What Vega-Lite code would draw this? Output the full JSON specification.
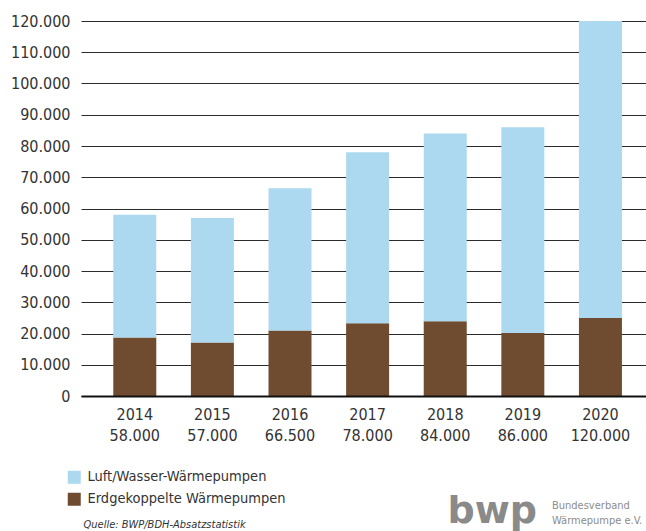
{
  "$schema": "https://vega.github.io/schema/vega-lite/v6.json",
  "width": 565,
  "height": 375,
  "autosize": {"type": "none"},
  "padding": {"left": 81, "top": 21, "right": 0, "bottom": 135},
  "background": "white",
  "config": {
    "locale": {"number": {"decimal": ",", "thousands": ".", "grouping": [3], "currency": ["", " €"]}},
    "view": {"stroke": null},
    "font": "DejaVu Sans Condensed"
  },
  "title": {
    "text": ["Bundesverband", "Wärmepumpe e.V."],
    "orient": "top",
    "anchor": "start",
    "frame": "group",
    "align": "left",
    "baseline": "top",
    "offset": 0,
    "dx": 471,
    "dy": 513,
    "fontSize": 11,
    "fontWeight": "normal",
    "color": "#8c8c8c",
    "lineHeight": 15,
    "font": "DejaVu Sans Condensed"
  },
  "data": {
    "values": [
      {"achse": "2014|58.000", "typ": "Erdgekoppelte Wärmepumpen", "anzahl": 18700},
      {"achse": "2014|58.000", "typ": "Luft/Wasser-Wärmepumpen", "anzahl": 39300},
      {"achse": "2015|57.000", "typ": "Erdgekoppelte Wärmepumpen", "anzahl": 17100},
      {"achse": "2015|57.000", "typ": "Luft/Wasser-Wärmepumpen", "anzahl": 39900},
      {"achse": "2016|66.500", "typ": "Erdgekoppelte Wärmepumpen", "anzahl": 21000},
      {"achse": "2016|66.500", "typ": "Luft/Wasser-Wärmepumpen", "anzahl": 45500},
      {"achse": "2017|78.000", "typ": "Erdgekoppelte Wärmepumpen", "anzahl": 23300},
      {"achse": "2017|78.000", "typ": "Luft/Wasser-Wärmepumpen", "anzahl": 54700},
      {"achse": "2018|84.000", "typ": "Erdgekoppelte Wärmepumpen", "anzahl": 23900},
      {"achse": "2018|84.000", "typ": "Luft/Wasser-Wärmepumpen", "anzahl": 60100},
      {"achse": "2019|86.000", "typ": "Erdgekoppelte Wärmepumpen", "anzahl": 20200},
      {"achse": "2019|86.000", "typ": "Luft/Wasser-Wärmepumpen", "anzahl": 65800},
      {"achse": "2020|120.000", "typ": "Erdgekoppelte Wärmepumpen", "anzahl": 25000},
      {"achse": "2020|120.000", "typ": "Luft/Wasser-Wärmepumpen", "anzahl": 95000}
    ]
  },
  "mark": {"type": "bar"},
  "encoding": {
    "x": {
      "field": "achse",
      "type": "nominal",
      "sort": null,
      "scale": {"paddingInner": 0.446, "paddingOuter": 0.363, "align": 0.573},
      "axis": {
        "title": "Quelle: BWP/BDH-Absatzstatistik",
        "labelAngle": 0,
        "labelExpr": "split(datum.label, '|')",
        "ticks": false,
        "domainColor": "#111111",
        "domainWidth": 2,
        "labelPadding": 10,
        "labelFontSize": 16,
        "labelLineHeight": 21,
        "labelColor": "#333333",
        "labelFont": "DejaVu Sans Condensed",
        "titleAnchor": "start",
        "titleAlign": "left",
        "titleX": 2,
        "titleY": 131,
        "titleBaseline": "alphabetic",
        "titleFontSize": 11,
        "titleFontStyle": "italic",
        "titleFontWeight": "normal",
        "titleColor": "#333333",
        "titleFont": "DejaVu Sans Condensed",
        "zindex": 1
      }
    },
    "y": {
      "field": "anzahl",
      "type": "quantitative",
      "stack": "zero",
      "scale": {"domain": [0, 120000], "nice": false},
      "axis": {
        "values": [0, 10000, 20000, 30000, 40000, 50000, 60000, 70000, 80000, 90000, 100000, 110000, 120000],
        "format": ",d",
        "domain": false,
        "ticks": false,
        "labelPadding": 11,
        "labelFontSize": 16,
        "labelColor": "#333333",
        "labelFont": "DejaVu Sans Condensed",
        "gridColor": "#2b2b2b",
        "gridWidth": 1.2,
        "title": "bwp",
        "titleAngle": 0,
        "titleX": 366,
        "titleY": 501,
        "titleAlign": "left",
        "titleBaseline": "alphabetic",
        "titleFontSize": 38,
        "titleFontWeight": "bold",
        "titleColor": "#8a8a8a",
        "titleFont": "DejaVu Sans"
      }
    },
    "color": {
      "field": "typ",
      "type": "nominal",
      "scale": {
        "domain": ["Luft/Wasser-Wärmepumpen", "Erdgekoppelte Wärmepumpen"],
        "range": ["#acd9ef", "#6f4b2f"]
      },
      "legend": {
        "orient": "none",
        "legendX": -14,
        "legendY": 449,
        "title": null,
        "symbolType": "square",
        "symbolSize": 169,
        "symbolStrokeWidth": 0,
        "labelFontSize": 14.5,
        "labelColor": "#333333",
        "labelFont": "DejaVu Sans Condensed",
        "labelOffset": 6,
        "rowPadding": 7,
        "labelLimit": 400
      }
    },
    "order": {"field": "typ", "sort": "ascending"}
  }
}
